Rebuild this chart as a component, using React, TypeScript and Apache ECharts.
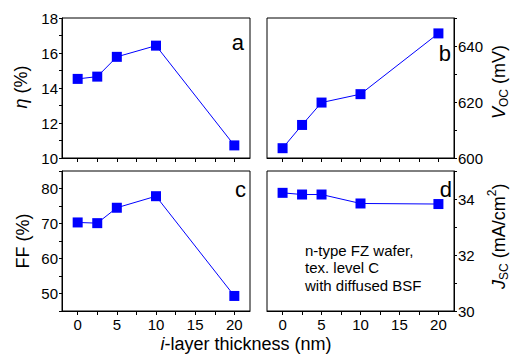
import React, { useEffect, useRef } from "react";
import * as echarts from "echarts";

const thickness = [0, 2.5, 5, 10, 20];
const eta = [14.52, 14.65, 15.78, 16.42, 10.72];
const voc = [603.5, 611.8, 619.8, 622.8, 644.5];
const ff = [70.3, 70.1, 74.5, 77.8, 49.3];
const jsc = [34.22, 34.16, 34.16, 33.84, 33.82];

const xTicks = [0, 2.5, 5, 7.5, 10, 12.5, 15, 17.5, 20];
const xLabels = [0, 5, 10, 15, 20];
const etaTicks = [10, 11, 12, 13, 14, 15, 16, 17, 18];
const etaLabels = [10, 12, 14, 16, 18];
const vocTicks = [600, 610, 620, 630, 640, 650];
const vocLabels = [600, 620, 640];
const ffTicks = [45, 50, 55, 60, 65, 70, 75, 80, 85];
const ffLabels = [50, 60, 70, 80];
const jscTicks = [30, 31, 32, 33, 34, 35];
const jscLabels = [30, 32, 34];

const panelLetters = ["a", "b", "c", "d"];
const noteLines = ["n-type FZ wafer,", "tex. level C", "with diffused BSF"];

const FONT = "'Liberation Sans', Arial, Helvetica, sans-serif";
const BLUE = "#0000ff";

export default function App() {
  const ref = useRef<HTMLDivElement>(null);
  useEffect(() => {
    if (!ref.current) return;
    const chart = echarts.init(ref.current, null, { renderer: "svg" });

    const grids = [
      { left: 62, top: 18, width: 188, height: 140 },
      { left: 267, top: 18, width: 187, height: 140 },
      { left: 62, top: 171, width: 188, height: 140 },
      { left: 267, top: 171, width: 187, height: 140 },
    ].map((g) => ({
      ...g,
      show: true,
      borderColor: "#000",
      borderWidth: 1,
      backgroundColor: "transparent",
      containLabel: false,
      outerBoundsMode: "none",
    }));

    const xAxes = [0, 1, 2, 3].map((i) => ({
      type: "value",
      gridIndex: i,
      min: -2,
      max: 22,
      splitLine: { show: false },
      axisLine: { show: true, onZero: false, lineStyle: { color: "#000", width: 1 } },
      axisTick: {
        show: true,
        inside: false,
        length: 4,
        customValues: xTicks,
        lineStyle: { color: "#000", width: 1 },
      },
      axisLabel: {
        show: i >= 2,
        customValues: xLabels,
        fontSize: 15,
        color: "#000",
        fontFamily: FONT,
        margin: 6,
      },
    }));

    const ySpecs = [
      { min: 10, max: 18, ticks: etaTicks, labels: etaLabels, pos: "left" },
      { min: 600, max: 650, ticks: vocTicks, labels: vocLabels, pos: "right" },
      { min: 45, max: 85, ticks: ffTicks, labels: ffLabels, pos: "left" },
      { min: 30, max: 35, ticks: jscTicks, labels: jscLabels, pos: "right" },
    ];
    const yAxes = ySpecs.map((s, i) => ({
      type: "value",
      gridIndex: i,
      position: s.pos,
      min: s.min,
      max: s.max,
      splitLine: { show: false },
      axisLine: { show: true, onZero: false, lineStyle: { color: "#000", width: 1 } },
      axisTick: {
        show: true,
        inside: false,
        length: 3,
        customValues: s.ticks,
        lineStyle: { color: "#000", width: 1 },
      },
      axisLabel: {
        show: true,
        customValues: s.labels,
        fontSize: 15,
        color: "#000",
        fontFamily: FONT,
        margin: 4,
      },
    }));

    const datasets = [eta, voc, ff, jsc];
    const series = datasets.map((vals, i) => ({
      type: "line",
      xAxisIndex: i,
      yAxisIndex: i,
      data: thickness.map((t, k) => [t, vals[k]]),
      symbol: "rect",
      symbolSize: 10,
      lineStyle: { color: BLUE, width: 1 },
      itemStyle: { color: BLUE },
      z: 3,
    }));

    const letterPos = [
      [244, 42],
      [451, 53],
      [246, 189],
      [452, 189],
    ];
    const letters = panelLetters.map((t, i) => ({
      type: "text",
      x: letterPos[i][0],
      y: letterPos[i][1],
      style: {
        text: t,
        fontSize: 22,
        fontFamily: FONT,
        fill: "#000",
        align: "right",
        verticalAlign: "middle",
      },
    }));

    const notes = noteLines.map((t, i) => ({
      type: "text",
      x: 305,
      y: 250 + i * 17.5,
      style: {
        text: t,
        fontSize: 15,
        fontFamily: FONT,
        fill: "#000",
        align: "left",
        verticalAlign: "middle",
      },
    }));

    const txt = (text: string, x: number, y: number, size: number, italic = false) => ({
      type: "text",
      x,
      y,
      style: {
        text,
        fontSize: size,
        fontStyle: italic ? "italic" : "normal",
        fontFamily: FONT,
        fill: "#000",
        align: "left",
        verticalAlign: "middle",
      },
    });

    const graphic = [
      ...letters,
      ...notes,
      {
        type: "text",
        x: 246,
        y: 344,
        style: {
          text: "{i|i}-layer thickness (nm)",
          fontSize: 18,
          fontFamily: FONT,
          fill: "#000",
          align: "center",
          verticalAlign: "middle",
          rich: { i: { fontStyle: "italic", fontSize: 18, fontFamily: FONT } },
        },
      },
      {
        type: "text",
        x: 21,
        y: 87,
        rotation: Math.PI / 2,
        style: {
          text: "{i|η} (%)",
          fontSize: 18,
          fontFamily: FONT,
          fill: "#000",
          align: "center",
          verticalAlign: "middle",
          rich: { i: { fontStyle: "italic", fontSize: 18, fontFamily: FONT } },
        },
      },
      {
        type: "text",
        x: 23,
        y: 241,
        rotation: Math.PI / 2,
        style: {
          text: "FF (%)",
          fontSize: 18,
          fontFamily: FONT,
          fill: "#000",
          align: "center",
          verticalAlign: "middle",
        },
      },
      {
        type: "group",
        x: 499,
        y: 82,
        rotation: Math.PI / 2,
        children: [
          txt("V", -37, 0, 18, true),
          txt("OC", -25, 5, 12),
          txt("(mV)", -2, 0, 18),
        ],
      },
      {
        type: "group",
        x: 499,
        y: 236,
        rotation: Math.PI / 2,
        children: [
          txt("J", -53, 0, 18, true),
          txt("SC", -44, 5, 12),
          txt("(mA/cm", -22.3, 0, 18),
          txt("2", 39.7, -7, 12),
          txt(")", 46.4, 0, 18),
        ],
      },
    ];

    chart.setOption({
      animation: false,
      textStyle: { fontFamily: FONT },
      grid: grids,
      xAxis: xAxes,
      yAxis: yAxes,
      series,
      graphic,
    } as any);

    return () => chart.dispose();
  }, []);

  return (
    <div
      ref={ref}
      style={{ position: "fixed", left: 0, top: 0, width: 513, height: 354, background: "#fff" }}
    />
  );
}
